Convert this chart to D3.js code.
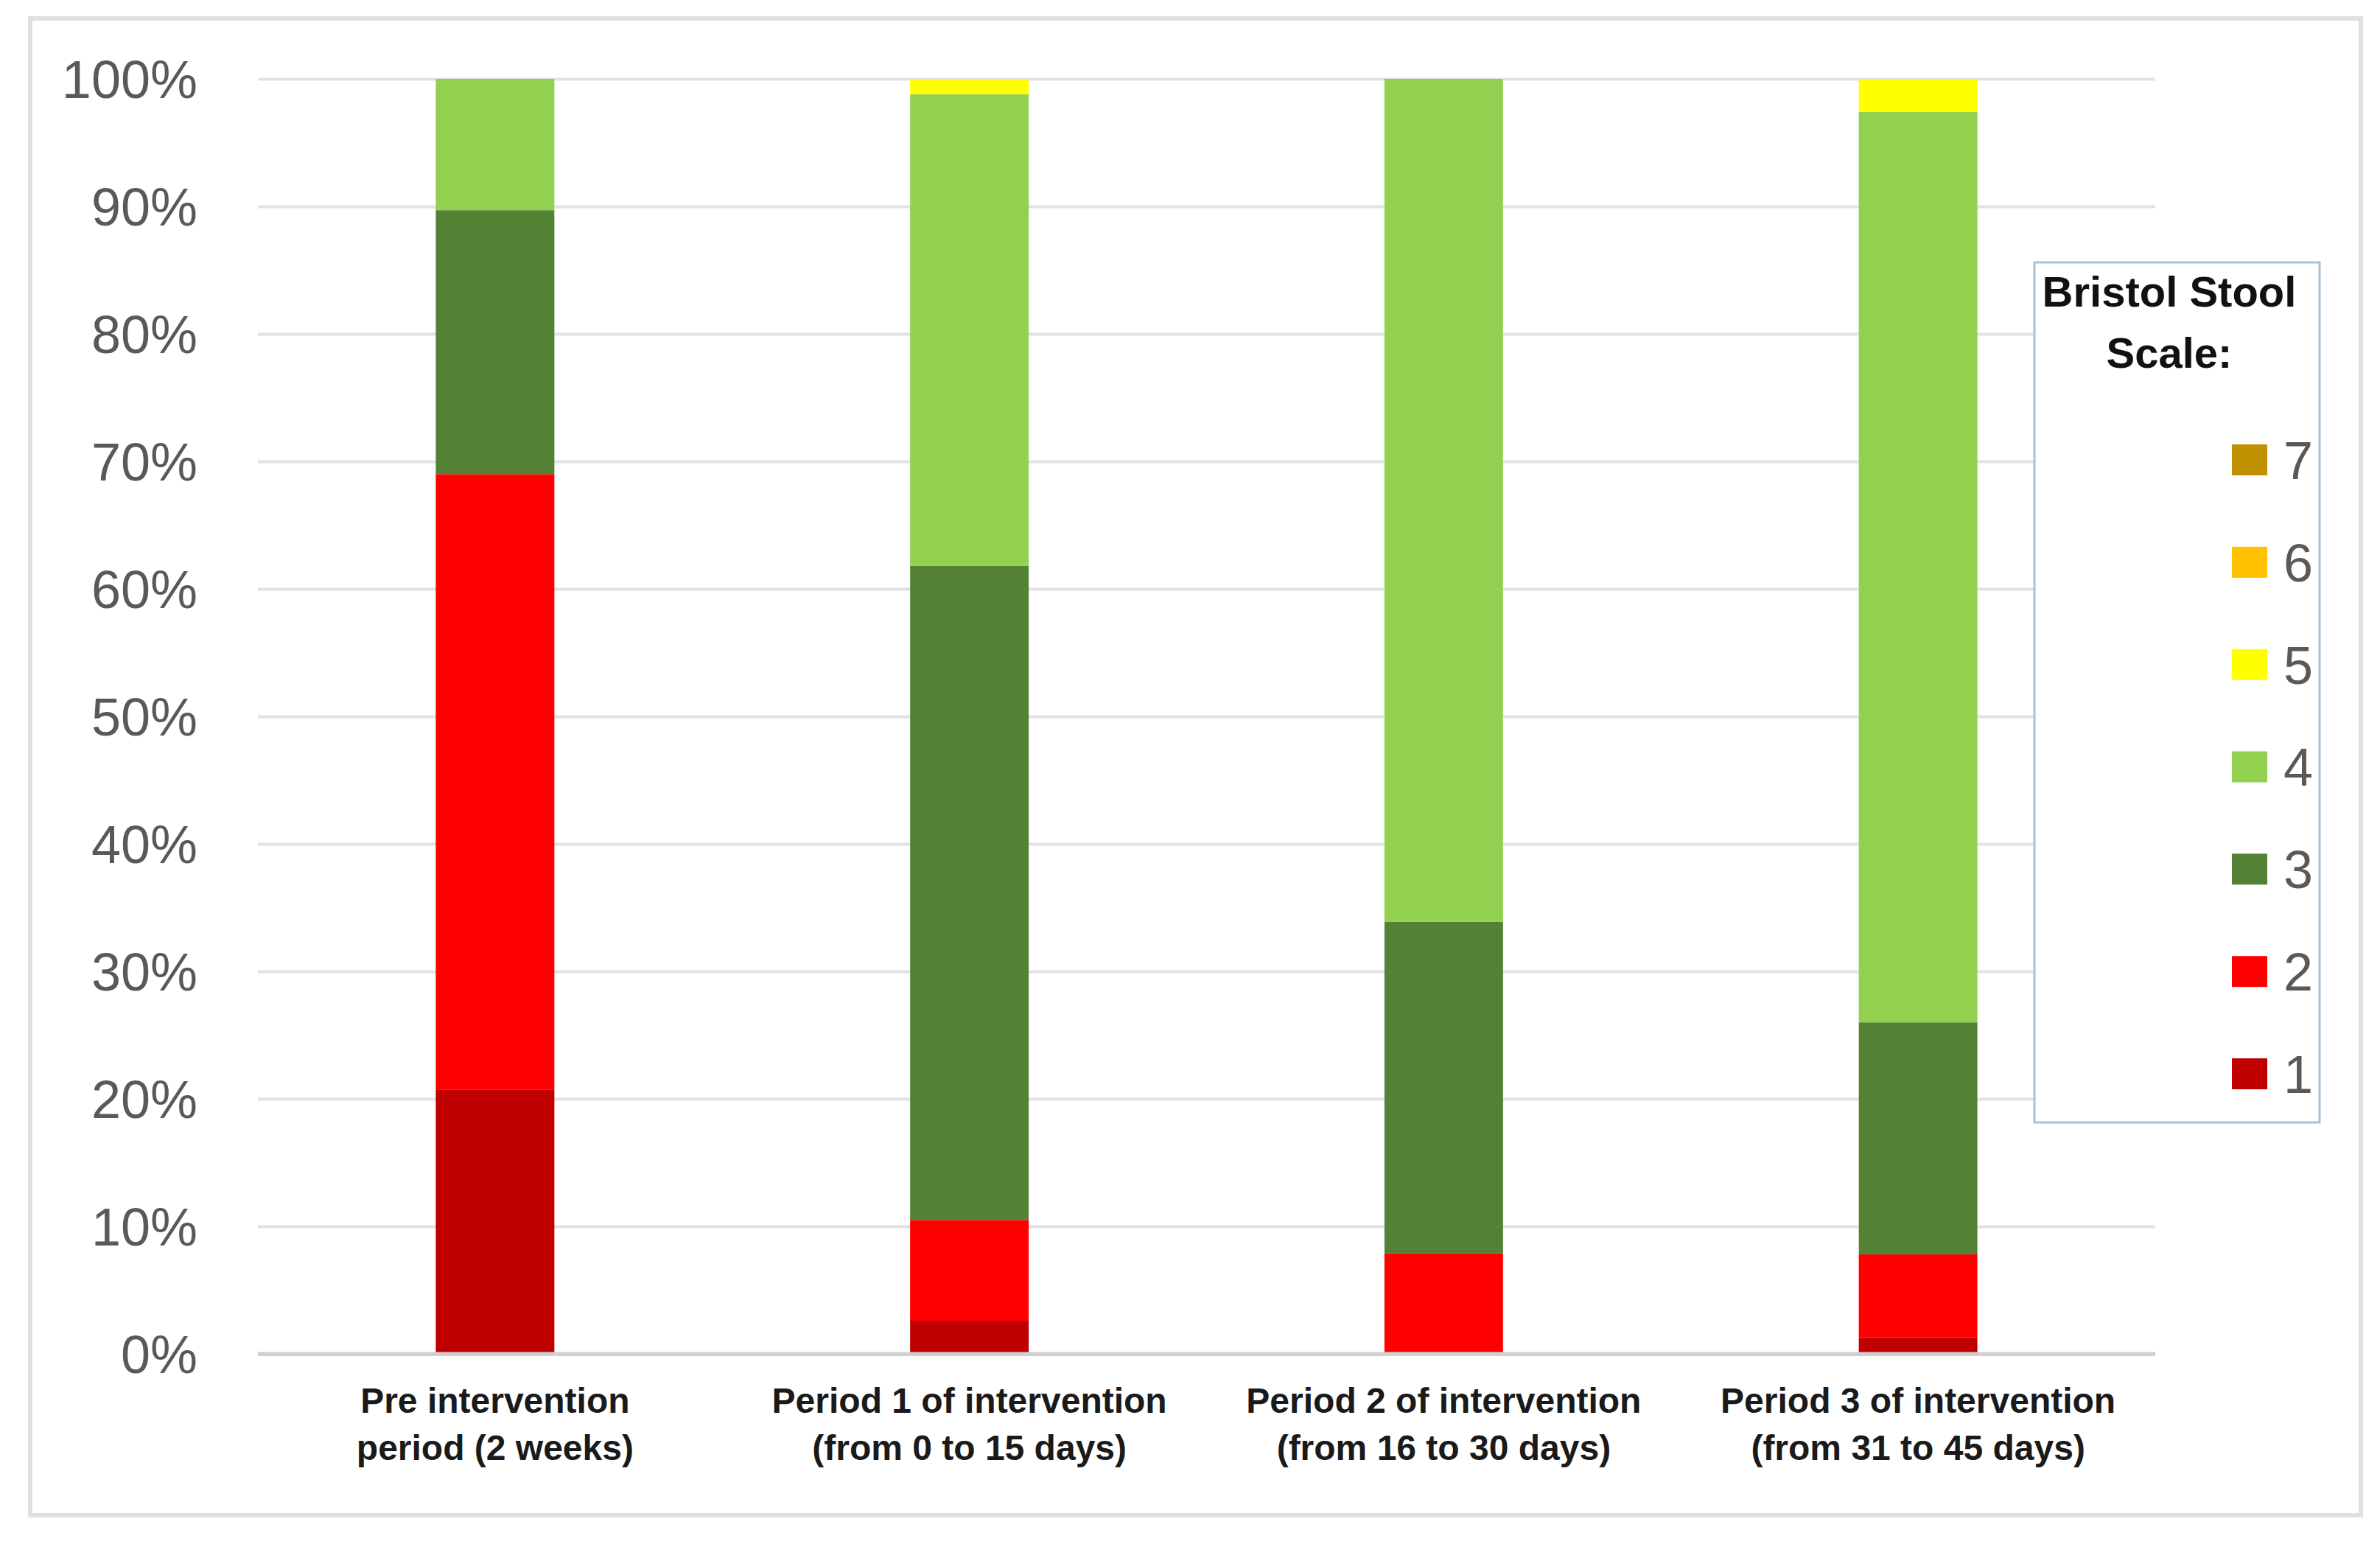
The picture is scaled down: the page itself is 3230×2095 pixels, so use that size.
<!DOCTYPE html>
<html>
<head>
<meta charset="utf-8">
<script src="https://cdn.jsdelivr.net/npm/d3@7"></script>
<style>
    body { margin: 0; background: #ffffff; }
    svg { display: block; }
</style>
</head>
<body>
<script>

// category labels (two lines each)
var categories = ["pre", "p1", "p2", "p3"];
var categoryLines = [
    ["Pre intervention", "period (2 weeks)"],
    ["Period 1 of intervention", "(from 0 to 15 days)"],
    ["Period 2 of intervention", "(from 16 to 30 days)"],
    ["Period 3 of intervention", "(from 31 to 45 days)"]
];

// share of each Bristol stool type per period (%)
var type1 = [20.7, 2.6, 0, 1.3];
var type2 = [48.3, 7.9, 7.9, 6.5];
var type3 = [20.7, 51.3, 26.0, 18.2];
var type4 = [10.3, 37.0, 66.1, 71.4];
var type5 = [0, 1.2, 0, 2.6];
var type6 = [0, 0, 0, 0];
var type7 = [0, 0, 0, 0];

var seriesKeys = ["1", "2", "3", "4", "5", "6", "7"];
var seriesColors = ["#c00000", "#ff0000", "#548235", "#92d050", "#ffff00", "#ffc000", "#bf9000"];

var yTicks = [0, 10, 20, 30, 40, 50, 60, 70, 80, 90, 100];

// build table for d3.stack
var allSeries = [type1, type2, type3, type4, type5, type6, type7];
var table = categories.map(function(c, i) {
    var row = { cat: c };
    seriesKeys.forEach(function(k, j) { row[k] = allSeries[j][i]; });
    return row;
});

var width = 3230, height = 2095;
var plot = { left: 350, right: 2925, top: 107, bottom: 1837 };

var svg = d3.select("body").append("svg")
    .attr("width", width)
    .attr("height", height);

// outer chart frame
svg.append("rect")
    .attr("x", 41).attr("y", 25)
    .attr("width", 3204 - 41).attr("height", 2056 - 25)
    .attr("fill", "#ffffff")
    .attr("stroke", "#e0e0e0")
    .attr("stroke-width", 6);

var x = d3.scaleBand()
    .domain(categories)
    .range([plot.left, plot.right])
    .paddingInner(0.75)
    .paddingOuter(0.375);

var y = d3.scaleLinear()
    .domain([0, 100])
    .range([plot.bottom, plot.top]);

// gridlines + y labels
var yAxis = svg.append("g")
    .attr("transform", "translate(" + plot.left + ",0)")
    .call(d3.axisLeft(y)
        .tickValues(yTicks)
        .tickSize(-(plot.right - plot.left))
        .tickPadding(82)
        .tickFormat(function(d) { return d + "%"; }));

yAxis.select(".domain").remove();
yAxis.selectAll(".tick line")
    .attr("stroke", function(d) { return d === 0 ? "#d0d0d0" : "#e2e2e2"; })
    .attr("stroke-width", function(d) { return d === 0 ? 5 : 4; });
yAxis.selectAll(".tick text")
    .attr("fill", "#595959")
    .style("font-family", "'Liberation Sans', Arial, sans-serif")
    .style("font-size", "72px")
    .attr("dy", "0.36em");

// stacked bars
var stack = d3.stack().keys(seriesKeys);
var stacked = stack(table);

svg.append("g").selectAll("g")
    .data(stacked)
    .enter().append("g")
    .attr("fill", function(d, i) { return seriesColors[i]; })
    .selectAll("rect")
    .data(function(d) { return d; })
    .enter().append("rect")
    .attr("x", function(d) { return x(d.data.cat); })
    .attr("width", x.bandwidth())
    .attr("y", function(d) { return y(d[1]); })
    .attr("height", function(d) { return y(d[0]) - y(d[1]); });

// redraw base line above bars
svg.append("line")
    .attr("x1", plot.left).attr("x2", plot.right)
    .attr("y1", y(0)).attr("y2", y(0))
    .attr("stroke", "#d0d0d0")
    .attr("stroke-width", 5);

// category labels
var xLabels = svg.append("g").selectAll("text")
    .data(categories)
    .enter().append("text")
    .attr("x", function(d) { return x(d) + x.bandwidth() / 2; })
    .attr("y", 1917)
    .attr("text-anchor", "middle")
    .attr("fill", "#1a1a1a")
    .style("font-family", "'Liberation Sans', Arial, sans-serif")
    .style("font-weight", "bold")
    .style("font-size", "48px");

xLabels.each(function(d, i) {
    var t = d3.select(this);
    categoryLines[i].forEach(function(line, j) {
        t.append("tspan")
            .attr("x", x(d) + x.bandwidth() / 2)
            .attr("dy", j === 0 ? 0 : 64)
            .text(line);
    });
});

// legend
var legend = svg.append("g");

legend.append("rect")
    .attr("x", 2761).attr("y", 356)
    .attr("width", 3148 - 2761).attr("height", 1523 - 356)
    .attr("fill", "#ffffff")
    .attr("stroke", "#a9c0dc")
    .attr("stroke-width", 3);

legend.append("text")
    .attr("x", 2944).attr("y", 416)
    .attr("text-anchor", "middle")
    .attr("fill", "#111111")
    .style("font-family", "'Liberation Sans', Arial, sans-serif")
    .style("font-weight", "bold")
    .style("font-size", "58px")
    .text("Bristol Stool");

legend.append("text")
    .attr("x", 2944).attr("y", 499)
    .attr("text-anchor", "middle")
    .attr("fill", "#111111")
    .style("font-family", "'Liberation Sans', Arial, sans-serif")
    .style("font-weight", "bold")
    .style("font-size", "58px")
    .text("Scale:");

var legendY = d3.scalePoint()
    .domain(seriesKeys.slice().reverse())
    .range([624, 1457]);

var items = legend.selectAll(".item")
    .data(seriesKeys.slice().reverse())
    .enter().append("g")
    .attr("class", "item")
    .attr("transform", function(d) { return "translate(0," + legendY(d) + ")"; });

items.append("rect")
    .attr("x", 3029).attr("y", -21)
    .attr("width", 48).attr("height", 42)
    .attr("fill", function(d) { return seriesColors[seriesKeys.indexOf(d)]; });

items.append("text")
    .attr("x", 3099).attr("y", 0)
    .attr("dy", "0.36em")
    .attr("fill", "#595959")
    .style("font-family", "'Liberation Sans', Arial, sans-serif")
    .style("font-size", "72px")
    .text(function(d) { return d; });

</script>
</body>
</html>
